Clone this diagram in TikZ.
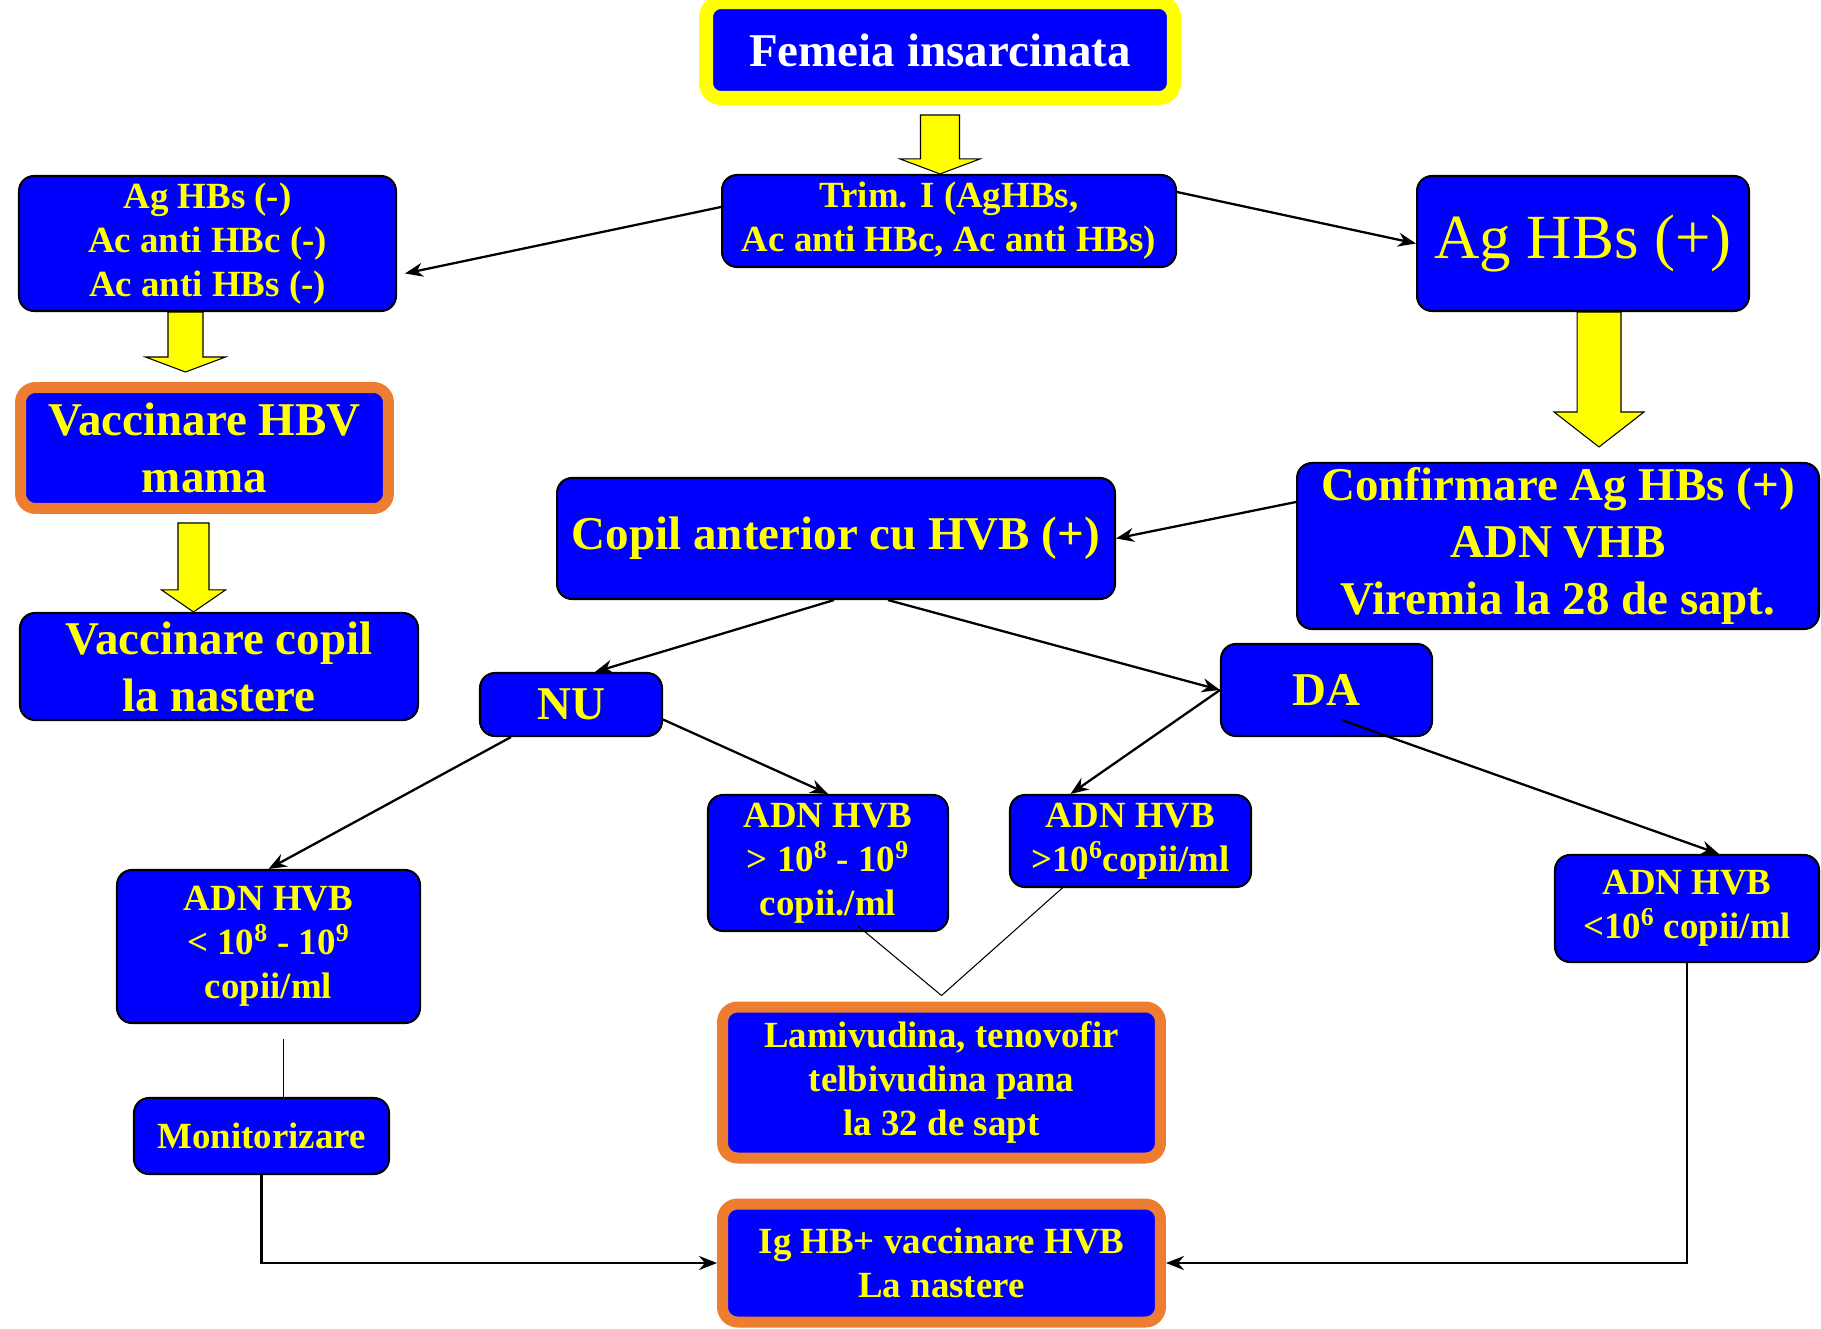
\documentclass[tikz,border=0pt]{standalone}
\usepackage{fontspec}
\setmainfont{Liberation Serif}
\usetikzlibrary{calc,arrows.meta}

\definecolor{hblue}{RGB}{0,0,255}
\definecolor{hyellow}{RGB}{255,255,0}
\definecolor{horange}{RGB}{237,125,49}

\newcommand{\bigtxt}{\fontsize{26.75}{32.4}\selectfont\bfseries}
\newcommand{\midtxt}{\fontsize{21}{25}\selectfont\bfseries}
\newcommand{\hugetxt}{\fontsize{35.8}{40}\selectfont}

% block arrow: from (top, gives x), to (tip), shaft half, head half, head length
\newcommand{\yarrow}[5]{%
  \draw[blockarrow] let \p1=#1, \p2=#2 in
    (\x1-#3,\y1) -- (\x1+#3,\y1) -- (\x1+#3,\y2+#5) -- (\x1+#4,\y2+#5)
    -- (\x1,\y2) -- (\x1-#4,\y2+#5) -- (\x1-#3,\y2+#5) -- cycle;}

\begin{document}
\begin{tikzpicture}[x=0.02cm, y=-0.02cm,
    box/.style={draw=black, line width=1.2pt, fill=hblue, text=hyellow, rounded corners=0.3cm,
                align=center, inner sep=0pt},
    orangebox/.style={box, draw=horange, line width=0.22cm},
    yellowbox/.style={box, draw=hyellow, line width=0.28cm, text=white},
    arr/.style={-{Stealth[length=0.36cm,width=0.28cm]}, line width=1.3pt},
    thin/.style={line width=0.6pt},
    blockarrow/.style={draw=black, line width=0.6pt, fill=hyellow}]
  \useasboundingbox (0,0) rectangle (1821,1328);

  % top
  \node[yellowbox, minimum width=9.36cm, minimum height=1.92cm, font=\bigtxt] (fem) at (940,50) {Femeia insarcinata};
  \node[box, minimum width=9.08cm, minimum height=1.84cm, font=\midtxt] (trim) at (949,221) {Trim. I (AgHBs,\\Ac anti HBc, Ac anti HBs)};
  \node[box, minimum width=7.54cm, minimum height=2.7cm, font=\midtxt] (neg) at (207.5,243.5) {Ag HBs (-)\\Ac anti HBc (-)\\Ac anti HBs (-)};
  \node[box, minimum width=6.64cm, minimum height=2.7cm, font=\hugetxt] (pos) at (1583,243.5) {Ag HBs (+)};

  % left column
  \node[orangebox, minimum width=7.36cm, minimum height=2.42cm, font=\bigtxt] (vacmama) at (204.5,448) {Vaccinare HBV\\mama};
  \node[box, minimum width=7.96cm, minimum height=2.14cm, font=\bigtxt] (vaccopil) at (219,666.5) {Vaccinare copil\\ la nastere};

  % middle
  \node[box, minimum width=10.44cm, minimum height=3.32cm, font=\bigtxt] (conf) at (1558,546) {Confirmare Ag HBs (+)\\ADN VHB\\Viremia la 28 de sapt.};
  \node[box, minimum width=11.16cm, minimum height=2.42cm, font=\bigtxt] (copil) at (836,538.5) {Copil anterior cu HVB (+)};
  \node[box, minimum width=3.64cm, minimum height=1.26cm, font=\bigtxt] (nu) at (571,704.5) {NU};
  \node[box, minimum width=4.22cm, minimum height=1.84cm, font=\bigtxt] (da) at (1326.5,690) {DA};

  % ADN HVB
  \node[box, minimum width=6.06cm, minimum height=3.06cm, font=\midtxt] (adnL) at (268.5,946.5) {ADN HVB\\< 10\textsuperscript{8} - 10\textsuperscript{9}\\copii/ml};
  \node[box, minimum width=4.8cm, minimum height=2.72cm, font=\midtxt] (adnM) at (828,863) {ADN HVB\\> 10\textsuperscript{8} - 10\textsuperscript{9}\\copii./ml};
  \node[box, minimum width=4.82cm, minimum height=1.84cm, font=\midtxt] (adnS) at (1130.5,841) {ADN HVB\\>10\textsuperscript{6}copii/ml};
  \node[box, minimum width=5.28cm, minimum height=2.14cm, font=\midtxt] (adnR) at (1687,908.5) {ADN HVB\\<10\textsuperscript{6} copii/ml};

  % bottom
  \node[orangebox, minimum width=8.76cm, minimum height=3.02cm, font=\midtxt] (lami) at (941.5,1082.5) {Lamivudina, tenovofir\\telbivudina pana\\la 32 de sapt};
  \node[box, minimum width=5.1cm, minimum height=1.52cm, font=\midtxt] (moni) at (261.5,1136) {Monitorizare};
  \node[orangebox, minimum width=8.76cm, minimum height=2.36cm, font=\midtxt] (ighb) at (941.5,1263) {Ig HB+ vaccinare HVB\\La nastere};

  % yellow arrows
  \yarrow{($(fem.south)+(0,10)$)}{(trim.north)}{0.39cm}{0.8cm}{0.3cm}
  \yarrow{($(neg.south)+(-22,0)$)}{($(vacmama.north)+(0,-10)$)}{0.35cm}{0.8cm}{0.3cm}
  \yarrow{($(vacmama.south)+(-11,9)$)}{(vaccopil.north)}{0.31cm}{0.64cm}{0.44cm}
  \yarrow{($(pos.south)+(16,0)$)}{($(conf.north)+(0,-15)$)}{0.44cm}{0.9cm}{0.7cm}

  % connectors
  \draw[arr] ($(trim.west)+(0,-14)$) -- ($(neg.east)+(8,30)$);
  \draw[arr] ($(trim.east)+(0,-29)$) -- (pos.west);
  \draw[arr] ($(conf.west)+(0,-44)$) -- (copil.east);
  \draw[arr] ($(copil.south)+(-2,0)$) -- ($(nu.north)+(24,0)$);
  \draw[arr] ($(copil.south)+(52,0)$) -- (da.west);
  \draw[arr] ($(nu.south)+(-60,0)$) -- (adnL.north);
  \draw[arr] ($(nu.east)+(0,15)$) -- (adnM.north);
  \draw[arr] (da.west) -- ($(adnS.north)+(-60,0)$);
  \draw[arr] ($(da.center)+(15,30)$) -- ($(adnR.north)+(32,0)$);

  \draw[thin] ($(adnM.south)+(30,-6)$) -- ($(lami.north)+(0,-6)$);
  \draw[thin] ($(adnS.south)+(-66,-2)$) -- ($(lami.north)+(0,-6)$);
  \draw[thin] ($(adnL.south)+(15,15)$) -- ($(moni.north)+(22,0)$);

  \draw[arr] (moni.south) |- (ighb.west);
  \draw[arr] (adnR.south) |- (ighb.east);
\end{tikzpicture}
\end{document}
